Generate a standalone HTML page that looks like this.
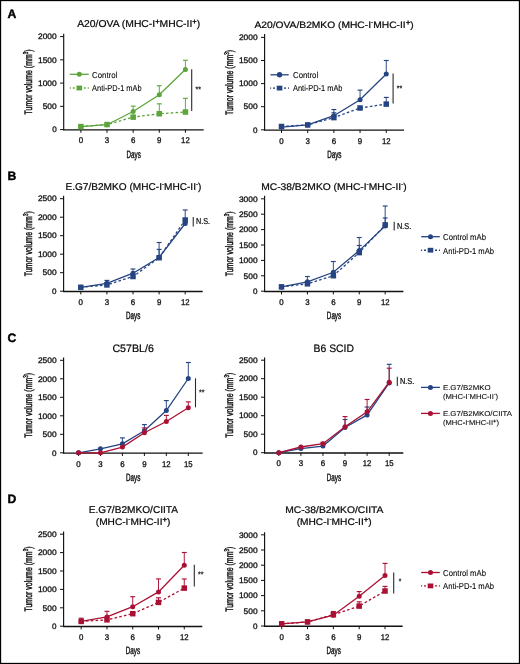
<!DOCTYPE html><html><head><meta charset="utf-8"><style>html,body{margin:0;padding:0;background:#fff;width:520px;height:664px;overflow:hidden}</style></head><body><svg width="520" height="664" viewBox="0 0 520 664" style="display:block">
<rect x="0" y="0" width="520" height="664" fill="#fff"/>
<g font-family='"Liberation Sans", sans-serif' style="will-change:transform" text-rendering="geometricPrecision" stroke="#1a1a1a" stroke-width="0.24">
<text x="7.50" y="17.60" font-size="12.2" stroke-width="0.4" font-weight="bold" fill="#000" stroke="#000">A</text>
<text x="7.50" y="179.80" font-size="12.2" stroke-width="0.4" font-weight="bold" fill="#000" stroke="#000">B</text>
<text x="7.50" y="342.30" font-size="12.2" stroke-width="0.4" font-weight="bold" fill="#000" stroke="#000">C</text>
<text x="7.50" y="503.40" font-size="12.2" stroke-width="0.4" font-weight="bold" fill="#000" stroke="#000">D</text>
<line x1="63.70" y1="33.80" x2="63.70" y2="130.20" stroke="#111" stroke-width="1.15" stroke-linecap="butt"/>
<line x1="60.10" y1="129.60" x2="63.70" y2="129.60" stroke="#111" stroke-width="1.0" stroke-linecap="butt"/>
<text x="56.70" y="132.35" font-size="8.0" stroke-width="0.32" text-anchor="end" textLength="4.50" lengthAdjust="spacingAndGlyphs" >0</text>
<line x1="60.10" y1="106.35" x2="63.70" y2="106.35" stroke="#111" stroke-width="1.0" stroke-linecap="butt"/>
<text x="56.70" y="109.10" font-size="8.0" stroke-width="0.32" text-anchor="end" textLength="14.00" lengthAdjust="spacingAndGlyphs" >500</text>
<line x1="60.10" y1="83.10" x2="63.70" y2="83.10" stroke="#111" stroke-width="1.0" stroke-linecap="butt"/>
<text x="56.70" y="85.85" font-size="8.0" stroke-width="0.32" text-anchor="end" textLength="18.70" lengthAdjust="spacingAndGlyphs" >1000</text>
<line x1="60.10" y1="59.85" x2="63.70" y2="59.85" stroke="#111" stroke-width="1.0" stroke-linecap="butt"/>
<text x="56.70" y="62.60" font-size="8.0" stroke-width="0.32" text-anchor="end" textLength="18.70" lengthAdjust="spacingAndGlyphs" >1500</text>
<line x1="60.10" y1="36.60" x2="63.70" y2="36.60" stroke="#111" stroke-width="1.0" stroke-linecap="butt"/>
<text x="56.70" y="39.35" font-size="8.0" stroke-width="0.32" text-anchor="end" textLength="18.70" lengthAdjust="spacingAndGlyphs" >2000</text>
<line x1="63.20" y1="129.85" x2="203.70" y2="129.85" stroke="#111" stroke-width="1.35" stroke-linecap="butt"/>
<line x1="80.90" y1="129.60" x2="80.90" y2="132.80" stroke="#111" stroke-width="1.0" stroke-linecap="butt"/>
<text x="80.90" y="143.30" font-size="8.3" stroke-width="0.32" text-anchor="middle" textLength="4.40" lengthAdjust="spacingAndGlyphs" >0</text>
<line x1="107.03" y1="129.60" x2="107.03" y2="132.80" stroke="#111" stroke-width="1.0" stroke-linecap="butt"/>
<text x="107.03" y="143.30" font-size="8.3" stroke-width="0.32" text-anchor="middle" textLength="4.40" lengthAdjust="spacingAndGlyphs" >3</text>
<line x1="133.16" y1="129.60" x2="133.16" y2="132.80" stroke="#111" stroke-width="1.0" stroke-linecap="butt"/>
<text x="133.16" y="143.30" font-size="8.3" stroke-width="0.32" text-anchor="middle" textLength="4.40" lengthAdjust="spacingAndGlyphs" >6</text>
<line x1="159.29" y1="129.60" x2="159.29" y2="132.80" stroke="#111" stroke-width="1.0" stroke-linecap="butt"/>
<text x="159.29" y="143.30" font-size="8.3" stroke-width="0.32" text-anchor="middle" textLength="4.40" lengthAdjust="spacingAndGlyphs" >9</text>
<line x1="185.42" y1="129.60" x2="185.42" y2="132.80" stroke="#111" stroke-width="1.0" stroke-linecap="butt"/>
<text x="185.42" y="143.30" font-size="8.3" stroke-width="0.32" text-anchor="middle" textLength="8.60" lengthAdjust="spacingAndGlyphs" >12</text>
<text x="133.70" y="157.80" font-size="10.7" text-anchor="middle" textLength="14.30" lengthAdjust="spacingAndGlyphs" stroke="#1a1a1a" stroke-width="0.45">Days</text>
<text transform="translate(31.80,81.90) rotate(-90)" x="0" y="0" font-size="10.8" text-anchor="middle" textLength="65" lengthAdjust="spacingAndGlyphs" fill="#1a1a1a" stroke="#1a1a1a" stroke-width="0.5">Tumor volume (mm<tspan dy="-3.6" font-size="7">3</tspan><tspan dy="3.6">)</tspan></text>
<text x="77.20" y="27.00" font-size="10.0" textLength="123.00" lengthAdjust="spacingAndGlyphs" >A20/OVA (MHC-I<tspan dy="-2.6" font-size="7.3" font-weight="bold">+</tspan><tspan dy="2.6">MHC-II</tspan><tspan dy="-2.6" font-size="7.3" font-weight="bold">+</tspan><tspan dy="2.6">)</tspan></text>
<line x1="133.16" y1="111.46" x2="133.16" y2="106.16" stroke="#5ba53a" stroke-width="0.95" stroke-linecap="butt"/>
<line x1="130.71" y1="106.16" x2="135.61" y2="106.16" stroke="#5ba53a" stroke-width="1.15" stroke-linecap="butt"/>
<line x1="159.29" y1="94.77" x2="159.29" y2="85.70" stroke="#5ba53a" stroke-width="0.95" stroke-linecap="butt"/>
<line x1="156.84" y1="85.70" x2="161.74" y2="85.70" stroke="#5ba53a" stroke-width="1.15" stroke-linecap="butt"/>
<line x1="185.42" y1="69.43" x2="185.42" y2="60.27" stroke="#5ba53a" stroke-width="0.95" stroke-linecap="butt"/>
<line x1="182.97" y1="60.27" x2="187.87" y2="60.27" stroke="#5ba53a" stroke-width="1.15" stroke-linecap="butt"/>
<path d="M80.90,126.72 L107.03,124.72 L133.16,111.46 L159.29,94.77 L185.42,69.43" fill="none" stroke="#5ba53a" stroke-width="1.3"/>
<circle cx="80.90" cy="126.72" r="2.50" fill="#5ba53a" stroke="none"/>
<circle cx="107.03" cy="124.72" r="2.50" fill="#5ba53a" stroke="none"/>
<circle cx="133.16" cy="111.46" r="2.50" fill="#5ba53a" stroke="none"/>
<circle cx="159.29" cy="94.77" r="2.50" fill="#5ba53a" stroke="none"/>
<circle cx="185.42" cy="69.43" r="2.50" fill="#5ba53a" stroke="none"/>
<line x1="133.16" y1="117.14" x2="133.16" y2="115.65" stroke="#5ba53a" stroke-width="0.95" stroke-linecap="butt"/>
<line x1="130.71" y1="115.65" x2="135.61" y2="115.65" stroke="#5ba53a" stroke-width="1.15" stroke-linecap="butt"/>
<line x1="159.29" y1="113.74" x2="159.29" y2="103.84" stroke="#5ba53a" stroke-width="0.95" stroke-linecap="butt"/>
<line x1="156.84" y1="103.84" x2="161.74" y2="103.84" stroke="#5ba53a" stroke-width="1.15" stroke-linecap="butt"/>
<line x1="185.42" y1="112.02" x2="185.42" y2="98.35" stroke="#5ba53a" stroke-width="0.95" stroke-linecap="butt"/>
<line x1="182.97" y1="98.35" x2="187.87" y2="98.35" stroke="#5ba53a" stroke-width="1.15" stroke-linecap="butt"/>
<path d="M80.90,126.58 L107.03,124.53 L133.16,117.14 L159.29,113.74 L185.42,112.02" fill="none" stroke="#5ba53a" stroke-width="1.3" stroke-dasharray="2.6,2.2"/>
<rect x="78.15" y="123.83" width="5.50" height="5.50" fill="#5ba53a" stroke="none"/>
<rect x="104.28" y="121.78" width="5.50" height="5.50" fill="#5ba53a" stroke="none"/>
<rect x="130.41" y="114.39" width="5.50" height="5.50" fill="#5ba53a" stroke="none"/>
<rect x="156.54" y="110.99" width="5.50" height="5.50" fill="#5ba53a" stroke="none"/>
<rect x="182.67" y="109.27" width="5.50" height="5.50" fill="#5ba53a" stroke="none"/>
<line x1="69.80" y1="74.30" x2="88.80" y2="74.30" stroke="#5ba53a" stroke-width="1.3"/>
<circle cx="79.30" cy="74.30" r="2.50" fill="#5ba53a" stroke="none"/>
<text x="92.10" y="77.65" font-size="8.5" stroke-width="0.1" textLength="25.20" lengthAdjust="spacingAndGlyphs" >Control</text>
<line x1="69.80" y1="88.00" x2="70.90" y2="88.00" stroke="#5ba53a" stroke-width="1.4"/>
<line x1="72.80" y1="88.00" x2="74.80" y2="88.00" stroke="#5ba53a" stroke-width="1.4"/>
<line x1="83.80" y1="88.00" x2="85.80" y2="88.00" stroke="#5ba53a" stroke-width="1.4"/>
<line x1="87.70" y1="88.00" x2="88.80" y2="88.00" stroke="#5ba53a" stroke-width="1.4"/>
<rect x="76.50" y="85.60" width="5.6" height="4.8" fill="#5ba53a" stroke="none"/>
<text x="92.10" y="91.35" font-size="8.5" stroke-width="0.1" textLength="49.50" lengthAdjust="spacingAndGlyphs" >Anti-PD-1 mAb</text>
<line x1="191.70" y1="69.20" x2="191.70" y2="111.10" stroke="#2a2a2a" stroke-width="1.1" stroke-linecap="butt"/>
<text x="195.40" y="92.00" font-size="8" textLength="5.50" lengthAdjust="spacingAndGlyphs" >**</text>
<line x1="264.60" y1="34.00" x2="264.60" y2="130.40" stroke="#111" stroke-width="1.15" stroke-linecap="butt"/>
<line x1="261.00" y1="129.80" x2="264.60" y2="129.80" stroke="#111" stroke-width="1.0" stroke-linecap="butt"/>
<text x="257.60" y="132.55" font-size="8.0" stroke-width="0.32" text-anchor="end" textLength="4.50" lengthAdjust="spacingAndGlyphs" >0</text>
<line x1="261.00" y1="106.70" x2="264.60" y2="106.70" stroke="#111" stroke-width="1.0" stroke-linecap="butt"/>
<text x="257.60" y="109.45" font-size="8.0" stroke-width="0.32" text-anchor="end" textLength="14.00" lengthAdjust="spacingAndGlyphs" >500</text>
<line x1="261.00" y1="83.60" x2="264.60" y2="83.60" stroke="#111" stroke-width="1.0" stroke-linecap="butt"/>
<text x="257.60" y="86.35" font-size="8.0" stroke-width="0.32" text-anchor="end" textLength="18.70" lengthAdjust="spacingAndGlyphs" >1000</text>
<line x1="261.00" y1="60.50" x2="264.60" y2="60.50" stroke="#111" stroke-width="1.0" stroke-linecap="butt"/>
<text x="257.60" y="63.25" font-size="8.0" stroke-width="0.32" text-anchor="end" textLength="18.70" lengthAdjust="spacingAndGlyphs" >1500</text>
<line x1="261.00" y1="37.40" x2="264.60" y2="37.40" stroke="#111" stroke-width="1.0" stroke-linecap="butt"/>
<text x="257.60" y="40.15" font-size="8.0" stroke-width="0.32" text-anchor="end" textLength="18.70" lengthAdjust="spacingAndGlyphs" >2000</text>
<line x1="264.10" y1="130.05" x2="404.00" y2="130.05" stroke="#111" stroke-width="1.35" stroke-linecap="butt"/>
<line x1="281.50" y1="129.80" x2="281.50" y2="133.00" stroke="#111" stroke-width="1.0" stroke-linecap="butt"/>
<text x="281.50" y="143.50" font-size="8.3" stroke-width="0.32" text-anchor="middle" textLength="4.40" lengthAdjust="spacingAndGlyphs" >0</text>
<line x1="307.69" y1="129.80" x2="307.69" y2="133.00" stroke="#111" stroke-width="1.0" stroke-linecap="butt"/>
<text x="307.69" y="143.50" font-size="8.3" stroke-width="0.32" text-anchor="middle" textLength="4.40" lengthAdjust="spacingAndGlyphs" >3</text>
<line x1="333.88" y1="129.80" x2="333.88" y2="133.00" stroke="#111" stroke-width="1.0" stroke-linecap="butt"/>
<text x="333.88" y="143.50" font-size="8.3" stroke-width="0.32" text-anchor="middle" textLength="4.40" lengthAdjust="spacingAndGlyphs" >6</text>
<line x1="360.07" y1="129.80" x2="360.07" y2="133.00" stroke="#111" stroke-width="1.0" stroke-linecap="butt"/>
<text x="360.07" y="143.50" font-size="8.3" stroke-width="0.32" text-anchor="middle" textLength="4.40" lengthAdjust="spacingAndGlyphs" >9</text>
<line x1="386.26" y1="129.80" x2="386.26" y2="133.00" stroke="#111" stroke-width="1.0" stroke-linecap="butt"/>
<text x="386.26" y="143.50" font-size="8.3" stroke-width="0.32" text-anchor="middle" textLength="8.60" lengthAdjust="spacingAndGlyphs" >12</text>
<text x="334.30" y="158.00" font-size="10.7" text-anchor="middle" textLength="14.30" lengthAdjust="spacingAndGlyphs" stroke="#1a1a1a" stroke-width="0.45">Days</text>
<text transform="translate(232.70,82.40) rotate(-90)" x="0" y="0" font-size="10.8" text-anchor="middle" textLength="65" lengthAdjust="spacingAndGlyphs" fill="#1a1a1a" stroke="#1a1a1a" stroke-width="0.5">Tumor volume (mm<tspan dy="-3.6" font-size="7">3</tspan><tspan dy="3.6">)</tspan></text>
<text x="254.50" y="27.50" font-size="9.3" textLength="159.30" lengthAdjust="spacingAndGlyphs" >A20/OVA/B2MKO (MHC-I<tspan dy="-4.0" font-size="6">-</tspan><tspan dy="4.0">MHC-II</tspan><tspan dy="-2.6" font-size="7.3" font-weight="bold">+</tspan><tspan dy="2.6">)</tspan></text>
<line x1="333.88" y1="115.71" x2="333.88" y2="109.52" stroke="#254482" stroke-width="0.95" stroke-linecap="butt"/>
<line x1="331.43" y1="109.52" x2="336.33" y2="109.52" stroke="#254482" stroke-width="1.15" stroke-linecap="butt"/>
<line x1="360.07" y1="99.68" x2="360.07" y2="90.11" stroke="#254482" stroke-width="0.95" stroke-linecap="butt"/>
<line x1="357.62" y1="90.11" x2="362.52" y2="90.11" stroke="#254482" stroke-width="1.15" stroke-linecap="butt"/>
<line x1="386.26" y1="74.08" x2="386.26" y2="60.50" stroke="#254482" stroke-width="0.95" stroke-linecap="butt"/>
<line x1="383.81" y1="60.50" x2="388.71" y2="60.50" stroke="#254482" stroke-width="1.15" stroke-linecap="butt"/>
<path d="M281.50,127.03 L307.69,124.90 L333.88,115.71 L360.07,99.68 L386.26,74.08" fill="none" stroke="#254482" stroke-width="1.3"/>
<circle cx="281.50" cy="127.03" r="2.50" fill="#254482" stroke="none"/>
<circle cx="307.69" cy="124.90" r="2.50" fill="#254482" stroke="none"/>
<circle cx="333.88" cy="115.71" r="2.50" fill="#254482" stroke="none"/>
<circle cx="360.07" cy="99.68" r="2.50" fill="#254482" stroke="none"/>
<circle cx="386.26" cy="74.08" r="2.50" fill="#254482" stroke="none"/>
<line x1="333.88" y1="117.60" x2="333.88" y2="112.80" stroke="#254482" stroke-width="0.95" stroke-linecap="butt"/>
<line x1="331.43" y1="112.80" x2="336.33" y2="112.80" stroke="#254482" stroke-width="1.15" stroke-linecap="butt"/>
<line x1="386.26" y1="104.11" x2="386.26" y2="97.41" stroke="#254482" stroke-width="0.95" stroke-linecap="butt"/>
<line x1="383.81" y1="97.41" x2="388.71" y2="97.41" stroke="#254482" stroke-width="1.15" stroke-linecap="butt"/>
<path d="M281.50,126.52 L307.69,124.90 L333.88,117.60 L360.07,107.99 L386.26,104.11" fill="none" stroke="#254482" stroke-width="1.3" stroke-dasharray="2.6,2.2"/>
<rect x="278.75" y="123.77" width="5.50" height="5.50" fill="#254482" stroke="none"/>
<rect x="304.94" y="122.15" width="5.50" height="5.50" fill="#254482" stroke="none"/>
<rect x="331.13" y="114.85" width="5.50" height="5.50" fill="#254482" stroke="none"/>
<rect x="357.32" y="105.24" width="5.50" height="5.50" fill="#254482" stroke="none"/>
<rect x="383.51" y="101.36" width="5.50" height="5.50" fill="#254482" stroke="none"/>
<line x1="270.40" y1="74.80" x2="288.70" y2="74.80" stroke="#254482" stroke-width="1.3"/>
<circle cx="279.55" cy="74.80" r="2.70" fill="#254482" stroke="none"/>
<text x="293.00" y="78.15" font-size="8.5" stroke-width="0.1" textLength="25.20" lengthAdjust="spacingAndGlyphs" >Control</text>
<line x1="270.05" y1="88.10" x2="271.15" y2="88.10" stroke="#254482" stroke-width="1.4"/>
<line x1="273.05" y1="88.10" x2="275.05" y2="88.10" stroke="#254482" stroke-width="1.4"/>
<line x1="284.05" y1="88.10" x2="286.05" y2="88.10" stroke="#254482" stroke-width="1.4"/>
<line x1="287.95" y1="88.10" x2="289.05" y2="88.10" stroke="#254482" stroke-width="1.4"/>
<rect x="276.75" y="85.70" width="5.6" height="4.8" fill="#254482" stroke="none"/>
<text x="293.00" y="91.45" font-size="8.5" stroke-width="0.1" textLength="49.50" lengthAdjust="spacingAndGlyphs" >Anti-PD-1 mAb</text>
<line x1="393.10" y1="73.60" x2="393.10" y2="103.50" stroke="#2a2a2a" stroke-width="1.1" stroke-linecap="butt"/>
<text x="396.80" y="90.50" font-size="8" textLength="5.50" lengthAdjust="spacingAndGlyphs" >**</text>
<line x1="63.60" y1="195.80" x2="63.60" y2="291.80" stroke="#111" stroke-width="1.15" stroke-linecap="butt"/>
<line x1="60.00" y1="291.20" x2="63.60" y2="291.20" stroke="#111" stroke-width="1.0" stroke-linecap="butt"/>
<text x="56.60" y="293.95" font-size="8.0" stroke-width="0.32" text-anchor="end" textLength="4.50" lengthAdjust="spacingAndGlyphs" >0</text>
<line x1="60.00" y1="272.70" x2="63.60" y2="272.70" stroke="#111" stroke-width="1.0" stroke-linecap="butt"/>
<text x="56.60" y="275.45" font-size="8.0" stroke-width="0.32" text-anchor="end" textLength="14.00" lengthAdjust="spacingAndGlyphs" >500</text>
<line x1="60.00" y1="254.20" x2="63.60" y2="254.20" stroke="#111" stroke-width="1.0" stroke-linecap="butt"/>
<text x="56.60" y="256.95" font-size="8.0" stroke-width="0.32" text-anchor="end" textLength="18.70" lengthAdjust="spacingAndGlyphs" >1000</text>
<line x1="60.00" y1="235.70" x2="63.60" y2="235.70" stroke="#111" stroke-width="1.0" stroke-linecap="butt"/>
<text x="56.60" y="238.45" font-size="8.0" stroke-width="0.32" text-anchor="end" textLength="18.70" lengthAdjust="spacingAndGlyphs" >1500</text>
<line x1="60.00" y1="217.20" x2="63.60" y2="217.20" stroke="#111" stroke-width="1.0" stroke-linecap="butt"/>
<text x="56.60" y="219.95" font-size="8.0" stroke-width="0.32" text-anchor="end" textLength="18.70" lengthAdjust="spacingAndGlyphs" >2000</text>
<line x1="60.00" y1="198.70" x2="63.60" y2="198.70" stroke="#111" stroke-width="1.0" stroke-linecap="butt"/>
<text x="56.60" y="201.45" font-size="8.0" stroke-width="0.32" text-anchor="end" textLength="18.70" lengthAdjust="spacingAndGlyphs" >2500</text>
<line x1="63.10" y1="291.45" x2="202.70" y2="291.45" stroke="#111" stroke-width="1.35" stroke-linecap="butt"/>
<line x1="80.80" y1="291.20" x2="80.80" y2="294.40" stroke="#111" stroke-width="1.0" stroke-linecap="butt"/>
<text x="80.80" y="304.90" font-size="8.3" stroke-width="0.32" text-anchor="middle" textLength="4.40" lengthAdjust="spacingAndGlyphs" >0</text>
<line x1="106.90" y1="291.20" x2="106.90" y2="294.40" stroke="#111" stroke-width="1.0" stroke-linecap="butt"/>
<text x="106.90" y="304.90" font-size="8.3" stroke-width="0.32" text-anchor="middle" textLength="4.40" lengthAdjust="spacingAndGlyphs" >3</text>
<line x1="133.00" y1="291.20" x2="133.00" y2="294.40" stroke="#111" stroke-width="1.0" stroke-linecap="butt"/>
<text x="133.00" y="304.90" font-size="8.3" stroke-width="0.32" text-anchor="middle" textLength="4.40" lengthAdjust="spacingAndGlyphs" >6</text>
<line x1="159.10" y1="291.20" x2="159.10" y2="294.40" stroke="#111" stroke-width="1.0" stroke-linecap="butt"/>
<text x="159.10" y="304.90" font-size="8.3" stroke-width="0.32" text-anchor="middle" textLength="4.40" lengthAdjust="spacingAndGlyphs" >9</text>
<line x1="185.20" y1="291.20" x2="185.20" y2="294.40" stroke="#111" stroke-width="1.0" stroke-linecap="butt"/>
<text x="185.20" y="304.90" font-size="8.3" stroke-width="0.32" text-anchor="middle" textLength="8.60" lengthAdjust="spacingAndGlyphs" >12</text>
<text x="133.15" y="319.40" font-size="10.7" text-anchor="middle" textLength="14.30" lengthAdjust="spacingAndGlyphs" stroke="#1a1a1a" stroke-width="0.45">Days</text>
<text transform="translate(31.70,243.75) rotate(-90)" x="0" y="0" font-size="10.8" text-anchor="middle" textLength="65" lengthAdjust="spacingAndGlyphs" fill="#1a1a1a" stroke="#1a1a1a" stroke-width="0.5">Tumor volume (mm<tspan dy="-3.6" font-size="7">3</tspan><tspan dy="3.6">)</tspan></text>
<text x="65.40" y="189.80" font-size="9.9" textLength="136.00" lengthAdjust="spacingAndGlyphs" >E.G7/B2MKO (MHC-I<tspan dy="-4.0" font-size="6">-</tspan><tspan dy="4.0">MHC-II</tspan><tspan dy="-4.0" font-size="6">-</tspan><tspan dy="4.0">)</tspan></text>
<line x1="106.90" y1="283.32" x2="106.90" y2="280.40" stroke="#254482" stroke-width="0.95" stroke-linecap="butt"/>
<line x1="104.45" y1="280.40" x2="109.35" y2="280.40" stroke="#254482" stroke-width="1.15" stroke-linecap="butt"/>
<line x1="133.00" y1="273.22" x2="133.00" y2="269.00" stroke="#254482" stroke-width="0.95" stroke-linecap="butt"/>
<line x1="130.55" y1="269.00" x2="135.45" y2="269.00" stroke="#254482" stroke-width="1.15" stroke-linecap="butt"/>
<line x1="159.10" y1="257.49" x2="159.10" y2="242.51" stroke="#254482" stroke-width="0.95" stroke-linecap="butt"/>
<line x1="156.65" y1="242.51" x2="161.55" y2="242.51" stroke="#254482" stroke-width="1.15" stroke-linecap="butt"/>
<path d="M80.80,287.31 L106.90,283.32 L133.00,273.22 L159.10,257.49 L185.20,223.49" fill="none" stroke="#254482" stroke-width="1.3"/>
<circle cx="80.80" cy="287.31" r="2.50" fill="#254482" stroke="none"/>
<circle cx="106.90" cy="283.32" r="2.50" fill="#254482" stroke="none"/>
<circle cx="133.00" cy="273.22" r="2.50" fill="#254482" stroke="none"/>
<circle cx="159.10" cy="257.49" r="2.50" fill="#254482" stroke="none"/>
<circle cx="185.20" cy="223.49" r="2.50" fill="#254482" stroke="none"/>
<line x1="159.10" y1="257.71" x2="159.10" y2="249.39" stroke="#254482" stroke-width="0.95" stroke-linecap="butt"/>
<line x1="156.65" y1="249.39" x2="161.55" y2="249.39" stroke="#254482" stroke-width="1.15" stroke-linecap="butt"/>
<line x1="185.20" y1="220.01" x2="185.20" y2="209.99" stroke="#254482" stroke-width="0.95" stroke-linecap="butt"/>
<line x1="182.75" y1="209.99" x2="187.65" y2="209.99" stroke="#254482" stroke-width="1.15" stroke-linecap="butt"/>
<path d="M80.80,287.31 L106.90,284.91 L133.00,276.51 L159.10,257.71 L185.20,220.01" fill="none" stroke="#254482" stroke-width="1.3" stroke-dasharray="2.6,2.2"/>
<rect x="78.05" y="284.56" width="5.50" height="5.50" fill="#254482" stroke="none"/>
<rect x="104.15" y="282.16" width="5.50" height="5.50" fill="#254482" stroke="none"/>
<rect x="130.25" y="273.76" width="5.50" height="5.50" fill="#254482" stroke="none"/>
<rect x="156.35" y="254.96" width="5.50" height="5.50" fill="#254482" stroke="none"/>
<rect x="182.45" y="217.26" width="5.50" height="5.50" fill="#254482" stroke="none"/>
<line x1="193.25" y1="216.90" x2="193.25" y2="226.60" stroke="#2a2a2a" stroke-width="1.1" stroke-linecap="butt"/>
<text x="196.00" y="224.40" font-size="8.6" textLength="14.00" lengthAdjust="spacingAndGlyphs" >N.S.</text>
<line x1="264.60" y1="195.80" x2="264.60" y2="291.80" stroke="#111" stroke-width="1.15" stroke-linecap="butt"/>
<line x1="261.00" y1="291.20" x2="264.60" y2="291.20" stroke="#111" stroke-width="1.0" stroke-linecap="butt"/>
<text x="257.60" y="293.95" font-size="8.0" stroke-width="0.32" text-anchor="end" textLength="4.50" lengthAdjust="spacingAndGlyphs" >0</text>
<line x1="261.00" y1="275.80" x2="264.60" y2="275.80" stroke="#111" stroke-width="1.0" stroke-linecap="butt"/>
<text x="257.60" y="278.55" font-size="8.0" stroke-width="0.32" text-anchor="end" textLength="14.00" lengthAdjust="spacingAndGlyphs" >500</text>
<line x1="261.00" y1="260.40" x2="264.60" y2="260.40" stroke="#111" stroke-width="1.0" stroke-linecap="butt"/>
<text x="257.60" y="263.15" font-size="8.0" stroke-width="0.32" text-anchor="end" textLength="18.70" lengthAdjust="spacingAndGlyphs" >1000</text>
<line x1="261.00" y1="245.00" x2="264.60" y2="245.00" stroke="#111" stroke-width="1.0" stroke-linecap="butt"/>
<text x="257.60" y="247.75" font-size="8.0" stroke-width="0.32" text-anchor="end" textLength="18.70" lengthAdjust="spacingAndGlyphs" >1500</text>
<line x1="261.00" y1="229.60" x2="264.60" y2="229.60" stroke="#111" stroke-width="1.0" stroke-linecap="butt"/>
<text x="257.60" y="232.35" font-size="8.0" stroke-width="0.32" text-anchor="end" textLength="18.70" lengthAdjust="spacingAndGlyphs" >2000</text>
<line x1="261.00" y1="214.20" x2="264.60" y2="214.20" stroke="#111" stroke-width="1.0" stroke-linecap="butt"/>
<text x="257.60" y="216.95" font-size="8.0" stroke-width="0.32" text-anchor="end" textLength="18.70" lengthAdjust="spacingAndGlyphs" >2500</text>
<line x1="261.00" y1="198.80" x2="264.60" y2="198.80" stroke="#111" stroke-width="1.0" stroke-linecap="butt"/>
<text x="257.60" y="201.55" font-size="8.0" stroke-width="0.32" text-anchor="end" textLength="18.70" lengthAdjust="spacingAndGlyphs" >3000</text>
<line x1="264.10" y1="291.45" x2="403.40" y2="291.45" stroke="#111" stroke-width="1.35" stroke-linecap="butt"/>
<line x1="281.50" y1="291.20" x2="281.50" y2="294.40" stroke="#111" stroke-width="1.0" stroke-linecap="butt"/>
<text x="281.50" y="304.90" font-size="8.3" stroke-width="0.32" text-anchor="middle" textLength="4.40" lengthAdjust="spacingAndGlyphs" >0</text>
<line x1="307.42" y1="291.20" x2="307.42" y2="294.40" stroke="#111" stroke-width="1.0" stroke-linecap="butt"/>
<text x="307.42" y="304.90" font-size="8.3" stroke-width="0.32" text-anchor="middle" textLength="4.40" lengthAdjust="spacingAndGlyphs" >3</text>
<line x1="333.34" y1="291.20" x2="333.34" y2="294.40" stroke="#111" stroke-width="1.0" stroke-linecap="butt"/>
<text x="333.34" y="304.90" font-size="8.3" stroke-width="0.32" text-anchor="middle" textLength="4.40" lengthAdjust="spacingAndGlyphs" >6</text>
<line x1="359.26" y1="291.20" x2="359.26" y2="294.40" stroke="#111" stroke-width="1.0" stroke-linecap="butt"/>
<text x="359.26" y="304.90" font-size="8.3" stroke-width="0.32" text-anchor="middle" textLength="4.40" lengthAdjust="spacingAndGlyphs" >9</text>
<line x1="385.18" y1="291.20" x2="385.18" y2="294.40" stroke="#111" stroke-width="1.0" stroke-linecap="butt"/>
<text x="385.18" y="304.90" font-size="8.3" stroke-width="0.32" text-anchor="middle" textLength="8.60" lengthAdjust="spacingAndGlyphs" >12</text>
<text x="334.00" y="319.40" font-size="10.7" text-anchor="middle" textLength="14.30" lengthAdjust="spacingAndGlyphs" stroke="#1a1a1a" stroke-width="0.45">Days</text>
<text transform="translate(232.70,243.80) rotate(-90)" x="0" y="0" font-size="10.8" text-anchor="middle" textLength="65" lengthAdjust="spacingAndGlyphs" fill="#1a1a1a" stroke="#1a1a1a" stroke-width="0.5">Tumor volume (mm<tspan dy="-3.6" font-size="7">3</tspan><tspan dy="3.6">)</tspan></text>
<text x="261.20" y="189.60" font-size="9.7" textLength="145.50" lengthAdjust="spacingAndGlyphs" >MC-38/B2MKO (MHC-I<tspan dy="-4.0" font-size="6">-</tspan><tspan dy="4.0">MHC-II</tspan><tspan dy="-4.0" font-size="6">-</tspan><tspan dy="4.0">)</tspan></text>
<line x1="307.42" y1="281.81" x2="307.42" y2="276.51" stroke="#254482" stroke-width="0.95" stroke-linecap="butt"/>
<line x1="304.97" y1="276.51" x2="309.87" y2="276.51" stroke="#254482" stroke-width="1.15" stroke-linecap="butt"/>
<line x1="333.34" y1="272.29" x2="333.34" y2="261.51" stroke="#254482" stroke-width="0.95" stroke-linecap="butt"/>
<line x1="330.89" y1="261.51" x2="335.79" y2="261.51" stroke="#254482" stroke-width="1.15" stroke-linecap="butt"/>
<line x1="359.26" y1="250.61" x2="359.26" y2="237.52" stroke="#254482" stroke-width="0.95" stroke-linecap="butt"/>
<line x1="356.81" y1="237.52" x2="361.71" y2="237.52" stroke="#254482" stroke-width="1.15" stroke-linecap="butt"/>
<line x1="385.18" y1="226.00" x2="385.18" y2="206.01" stroke="#254482" stroke-width="0.95" stroke-linecap="butt"/>
<line x1="382.73" y1="206.01" x2="387.63" y2="206.01" stroke="#254482" stroke-width="1.15" stroke-linecap="butt"/>
<path d="M281.50,286.89 L307.42,281.81 L333.34,272.29 L359.26,250.61 L385.18,226.00" fill="none" stroke="#254482" stroke-width="1.3"/>
<circle cx="281.50" cy="286.89" r="2.50" fill="#254482" stroke="none"/>
<circle cx="307.42" cy="281.81" r="2.50" fill="#254482" stroke="none"/>
<circle cx="333.34" cy="272.29" r="2.50" fill="#254482" stroke="none"/>
<circle cx="359.26" cy="250.61" r="2.50" fill="#254482" stroke="none"/>
<circle cx="385.18" cy="226.00" r="2.50" fill="#254482" stroke="none"/>
<line x1="359.26" y1="252.61" x2="359.26" y2="245.49" stroke="#254482" stroke-width="0.95" stroke-linecap="butt"/>
<line x1="356.81" y1="245.49" x2="361.71" y2="245.49" stroke="#254482" stroke-width="1.15" stroke-linecap="butt"/>
<line x1="385.18" y1="224.89" x2="385.18" y2="217.99" stroke="#254482" stroke-width="0.95" stroke-linecap="butt"/>
<line x1="382.73" y1="217.99" x2="387.63" y2="217.99" stroke="#254482" stroke-width="1.15" stroke-linecap="butt"/>
<path d="M281.50,286.89 L307.42,283.81 L333.34,275.71 L359.26,252.61 L385.18,224.89" fill="none" stroke="#254482" stroke-width="1.3" stroke-dasharray="2.6,2.2"/>
<rect x="278.75" y="284.14" width="5.50" height="5.50" fill="#254482" stroke="none"/>
<rect x="304.67" y="281.06" width="5.50" height="5.50" fill="#254482" stroke="none"/>
<rect x="330.59" y="272.96" width="5.50" height="5.50" fill="#254482" stroke="none"/>
<rect x="356.51" y="249.86" width="5.50" height="5.50" fill="#254482" stroke="none"/>
<rect x="382.43" y="222.14" width="5.50" height="5.50" fill="#254482" stroke="none"/>
<line x1="394.20" y1="221.80" x2="394.20" y2="230.60" stroke="#2a2a2a" stroke-width="1.1" stroke-linecap="butt"/>
<text x="397.00" y="228.60" font-size="8.6" textLength="14.20" lengthAdjust="spacingAndGlyphs" >N.S.</text>
<line x1="421.20" y1="236.70" x2="439.80" y2="236.70" stroke="#254482" stroke-width="1.3"/>
<circle cx="430.50" cy="236.70" r="2.50" fill="#254482" stroke="none"/>
<text x="443.10" y="240.05" font-size="8.5" stroke-width="0.1" textLength="42.90" lengthAdjust="spacingAndGlyphs" >Control mAb</text>
<line x1="421.00" y1="250.20" x2="422.10" y2="250.20" stroke="#254482" stroke-width="1.4"/>
<line x1="424.00" y1="250.20" x2="426.00" y2="250.20" stroke="#254482" stroke-width="1.4"/>
<line x1="435.00" y1="250.20" x2="437.00" y2="250.20" stroke="#254482" stroke-width="1.4"/>
<line x1="438.90" y1="250.20" x2="440.00" y2="250.20" stroke="#254482" stroke-width="1.4"/>
<rect x="427.70" y="247.80" width="5.6" height="4.8" fill="#254482" stroke="none"/>
<text x="443.10" y="253.55" font-size="8.5" stroke-width="0.1" textLength="50.90" lengthAdjust="spacingAndGlyphs" >Anti-PD-1 mAb</text>
<line x1="63.60" y1="357.40" x2="63.60" y2="453.40" stroke="#111" stroke-width="1.15" stroke-linecap="butt"/>
<line x1="60.00" y1="452.80" x2="63.60" y2="452.80" stroke="#111" stroke-width="1.0" stroke-linecap="butt"/>
<text x="56.60" y="455.55" font-size="8.0" stroke-width="0.32" text-anchor="end" textLength="4.50" lengthAdjust="spacingAndGlyphs" >0</text>
<line x1="60.00" y1="434.30" x2="63.60" y2="434.30" stroke="#111" stroke-width="1.0" stroke-linecap="butt"/>
<text x="56.60" y="437.05" font-size="8.0" stroke-width="0.32" text-anchor="end" textLength="14.00" lengthAdjust="spacingAndGlyphs" >500</text>
<line x1="60.00" y1="415.80" x2="63.60" y2="415.80" stroke="#111" stroke-width="1.0" stroke-linecap="butt"/>
<text x="56.60" y="418.55" font-size="8.0" stroke-width="0.32" text-anchor="end" textLength="18.70" lengthAdjust="spacingAndGlyphs" >1000</text>
<line x1="60.00" y1="397.30" x2="63.60" y2="397.30" stroke="#111" stroke-width="1.0" stroke-linecap="butt"/>
<text x="56.60" y="400.05" font-size="8.0" stroke-width="0.32" text-anchor="end" textLength="18.70" lengthAdjust="spacingAndGlyphs" >1500</text>
<line x1="60.00" y1="378.80" x2="63.60" y2="378.80" stroke="#111" stroke-width="1.0" stroke-linecap="butt"/>
<text x="56.60" y="381.55" font-size="8.0" stroke-width="0.32" text-anchor="end" textLength="18.70" lengthAdjust="spacingAndGlyphs" >2000</text>
<line x1="60.00" y1="360.30" x2="63.60" y2="360.30" stroke="#111" stroke-width="1.0" stroke-linecap="butt"/>
<text x="56.60" y="363.05" font-size="8.0" stroke-width="0.32" text-anchor="end" textLength="18.70" lengthAdjust="spacingAndGlyphs" >2500</text>
<line x1="63.10" y1="453.05" x2="202.70" y2="453.05" stroke="#111" stroke-width="1.35" stroke-linecap="butt"/>
<line x1="78.50" y1="452.80" x2="78.50" y2="456.00" stroke="#111" stroke-width="1.0" stroke-linecap="butt"/>
<text x="78.50" y="466.50" font-size="8.3" stroke-width="0.32" text-anchor="middle" textLength="4.40" lengthAdjust="spacingAndGlyphs" >0</text>
<line x1="100.46" y1="452.80" x2="100.46" y2="456.00" stroke="#111" stroke-width="1.0" stroke-linecap="butt"/>
<text x="100.46" y="466.50" font-size="8.3" stroke-width="0.32" text-anchor="middle" textLength="4.40" lengthAdjust="spacingAndGlyphs" >3</text>
<line x1="122.42" y1="452.80" x2="122.42" y2="456.00" stroke="#111" stroke-width="1.0" stroke-linecap="butt"/>
<text x="122.42" y="466.50" font-size="8.3" stroke-width="0.32" text-anchor="middle" textLength="4.40" lengthAdjust="spacingAndGlyphs" >6</text>
<line x1="144.38" y1="452.80" x2="144.38" y2="456.00" stroke="#111" stroke-width="1.0" stroke-linecap="butt"/>
<text x="144.38" y="466.50" font-size="8.3" stroke-width="0.32" text-anchor="middle" textLength="4.40" lengthAdjust="spacingAndGlyphs" >9</text>
<line x1="166.34" y1="452.80" x2="166.34" y2="456.00" stroke="#111" stroke-width="1.0" stroke-linecap="butt"/>
<text x="166.34" y="466.50" font-size="8.3" stroke-width="0.32" text-anchor="middle" textLength="8.60" lengthAdjust="spacingAndGlyphs" >12</text>
<line x1="188.30" y1="452.80" x2="188.30" y2="456.00" stroke="#111" stroke-width="1.0" stroke-linecap="butt"/>
<text x="188.30" y="466.50" font-size="8.3" stroke-width="0.32" text-anchor="middle" textLength="8.60" lengthAdjust="spacingAndGlyphs" >15</text>
<text x="133.15" y="481.00" font-size="10.7" text-anchor="middle" textLength="14.30" lengthAdjust="spacingAndGlyphs" stroke="#1a1a1a" stroke-width="0.45">Days</text>
<text transform="translate(31.70,405.35) rotate(-90)" x="0" y="0" font-size="10.8" text-anchor="middle" textLength="65" lengthAdjust="spacingAndGlyphs" fill="#1a1a1a" stroke="#1a1a1a" stroke-width="0.5">Tumor volume (mm<tspan dy="-3.6" font-size="7">3</tspan><tspan dy="3.6">)</tspan></text>
<text x="112.40" y="351.70" font-size="10.8" textLength="41.60" lengthAdjust="spacingAndGlyphs" >C57BL/6</text>
<line x1="122.42" y1="443.81" x2="122.42" y2="437.89" stroke="#254482" stroke-width="0.95" stroke-linecap="butt"/>
<line x1="119.97" y1="437.89" x2="124.87" y2="437.89" stroke="#254482" stroke-width="1.15" stroke-linecap="butt"/>
<line x1="144.38" y1="430.79" x2="144.38" y2="424.61" stroke="#254482" stroke-width="0.95" stroke-linecap="butt"/>
<line x1="141.93" y1="424.61" x2="146.83" y2="424.61" stroke="#254482" stroke-width="1.15" stroke-linecap="butt"/>
<line x1="166.34" y1="410.58" x2="166.34" y2="400.59" stroke="#254482" stroke-width="0.95" stroke-linecap="butt"/>
<line x1="163.89" y1="400.59" x2="168.79" y2="400.59" stroke="#254482" stroke-width="1.15" stroke-linecap="butt"/>
<line x1="188.30" y1="378.50" x2="188.30" y2="362.48" stroke="#254482" stroke-width="0.95" stroke-linecap="butt"/>
<line x1="185.85" y1="362.48" x2="190.75" y2="362.48" stroke="#254482" stroke-width="1.15" stroke-linecap="butt"/>
<path d="M78.50,452.80 L100.46,448.80 L122.42,443.81 L144.38,430.79 L166.34,410.58 L188.30,378.50" fill="none" stroke="#254482" stroke-width="1.3"/>
<circle cx="78.50" cy="452.80" r="2.50" fill="#254482" stroke="none"/>
<circle cx="100.46" cy="448.80" r="2.50" fill="#254482" stroke="none"/>
<circle cx="122.42" cy="443.81" r="2.50" fill="#254482" stroke="none"/>
<circle cx="144.38" cy="430.79" r="2.50" fill="#254482" stroke="none"/>
<circle cx="166.34" cy="410.58" r="2.50" fill="#254482" stroke="none"/>
<circle cx="188.30" cy="378.50" r="2.50" fill="#254482" stroke="none"/>
<line x1="144.38" y1="432.71" x2="144.38" y2="427.90" stroke="#aa1034" stroke-width="0.95" stroke-linecap="butt"/>
<line x1="141.93" y1="427.90" x2="146.83" y2="427.90" stroke="#aa1034" stroke-width="1.15" stroke-linecap="butt"/>
<line x1="166.34" y1="421.50" x2="166.34" y2="415.39" stroke="#aa1034" stroke-width="0.95" stroke-linecap="butt"/>
<line x1="163.89" y1="415.39" x2="168.79" y2="415.39" stroke="#aa1034" stroke-width="1.15" stroke-linecap="butt"/>
<line x1="188.30" y1="407.70" x2="188.30" y2="401.89" stroke="#aa1034" stroke-width="0.95" stroke-linecap="butt"/>
<line x1="185.85" y1="401.89" x2="190.75" y2="401.89" stroke="#aa1034" stroke-width="1.15" stroke-linecap="butt"/>
<path d="M78.50,452.80 L100.46,452.80 L122.42,447.10 L144.38,432.71 L166.34,421.50 L188.30,407.70" fill="none" stroke="#aa1034" stroke-width="1.3"/>
<circle cx="78.50" cy="452.80" r="2.50" fill="#aa1034" stroke="none"/>
<circle cx="100.46" cy="452.80" r="2.50" fill="#aa1034" stroke="none"/>
<circle cx="122.42" cy="447.10" r="2.50" fill="#aa1034" stroke="none"/>
<circle cx="144.38" cy="432.71" r="2.50" fill="#aa1034" stroke="none"/>
<circle cx="166.34" cy="421.50" r="2.50" fill="#aa1034" stroke="none"/>
<circle cx="188.30" cy="407.70" r="2.50" fill="#aa1034" stroke="none"/>
<line x1="195.50" y1="378.30" x2="195.50" y2="407.30" stroke="#2a2a2a" stroke-width="1.1" stroke-linecap="butt"/>
<text x="199.00" y="394.80" font-size="8" textLength="5.50" lengthAdjust="spacingAndGlyphs" >**</text>
<line x1="264.60" y1="357.40" x2="264.60" y2="453.30" stroke="#111" stroke-width="1.15" stroke-linecap="butt"/>
<line x1="261.00" y1="452.70" x2="264.60" y2="452.70" stroke="#111" stroke-width="1.0" stroke-linecap="butt"/>
<text x="257.60" y="455.45" font-size="8.0" stroke-width="0.32" text-anchor="end" textLength="4.50" lengthAdjust="spacingAndGlyphs" >0</text>
<line x1="261.00" y1="434.20" x2="264.60" y2="434.20" stroke="#111" stroke-width="1.0" stroke-linecap="butt"/>
<text x="257.60" y="436.95" font-size="8.0" stroke-width="0.32" text-anchor="end" textLength="14.00" lengthAdjust="spacingAndGlyphs" >500</text>
<line x1="261.00" y1="415.70" x2="264.60" y2="415.70" stroke="#111" stroke-width="1.0" stroke-linecap="butt"/>
<text x="257.60" y="418.45" font-size="8.0" stroke-width="0.32" text-anchor="end" textLength="18.70" lengthAdjust="spacingAndGlyphs" >1000</text>
<line x1="261.00" y1="397.20" x2="264.60" y2="397.20" stroke="#111" stroke-width="1.0" stroke-linecap="butt"/>
<text x="257.60" y="399.95" font-size="8.0" stroke-width="0.32" text-anchor="end" textLength="18.70" lengthAdjust="spacingAndGlyphs" >1500</text>
<line x1="261.00" y1="378.70" x2="264.60" y2="378.70" stroke="#111" stroke-width="1.0" stroke-linecap="butt"/>
<text x="257.60" y="381.45" font-size="8.0" stroke-width="0.32" text-anchor="end" textLength="18.70" lengthAdjust="spacingAndGlyphs" >2000</text>
<line x1="261.00" y1="360.20" x2="264.60" y2="360.20" stroke="#111" stroke-width="1.0" stroke-linecap="butt"/>
<text x="257.60" y="362.95" font-size="8.0" stroke-width="0.32" text-anchor="end" textLength="18.70" lengthAdjust="spacingAndGlyphs" >2500</text>
<line x1="264.10" y1="452.95" x2="403.30" y2="452.95" stroke="#111" stroke-width="1.35" stroke-linecap="butt"/>
<line x1="278.80" y1="452.70" x2="278.80" y2="455.90" stroke="#111" stroke-width="1.0" stroke-linecap="butt"/>
<text x="278.80" y="466.40" font-size="8.3" stroke-width="0.32" text-anchor="middle" textLength="4.40" lengthAdjust="spacingAndGlyphs" >0</text>
<line x1="300.88" y1="452.70" x2="300.88" y2="455.90" stroke="#111" stroke-width="1.0" stroke-linecap="butt"/>
<text x="300.88" y="466.40" font-size="8.3" stroke-width="0.32" text-anchor="middle" textLength="4.40" lengthAdjust="spacingAndGlyphs" >3</text>
<line x1="322.96" y1="452.70" x2="322.96" y2="455.90" stroke="#111" stroke-width="1.0" stroke-linecap="butt"/>
<text x="322.96" y="466.40" font-size="8.3" stroke-width="0.32" text-anchor="middle" textLength="4.40" lengthAdjust="spacingAndGlyphs" >6</text>
<line x1="345.04" y1="452.70" x2="345.04" y2="455.90" stroke="#111" stroke-width="1.0" stroke-linecap="butt"/>
<text x="345.04" y="466.40" font-size="8.3" stroke-width="0.32" text-anchor="middle" textLength="4.40" lengthAdjust="spacingAndGlyphs" >9</text>
<line x1="367.12" y1="452.70" x2="367.12" y2="455.90" stroke="#111" stroke-width="1.0" stroke-linecap="butt"/>
<text x="367.12" y="466.40" font-size="8.3" stroke-width="0.32" text-anchor="middle" textLength="8.60" lengthAdjust="spacingAndGlyphs" >12</text>
<line x1="389.20" y1="452.70" x2="389.20" y2="455.90" stroke="#111" stroke-width="1.0" stroke-linecap="butt"/>
<text x="389.20" y="466.40" font-size="8.3" stroke-width="0.32" text-anchor="middle" textLength="8.60" lengthAdjust="spacingAndGlyphs" >15</text>
<text x="333.95" y="480.90" font-size="10.7" text-anchor="middle" textLength="14.30" lengthAdjust="spacingAndGlyphs" stroke="#1a1a1a" stroke-width="0.45">Days</text>
<text transform="translate(232.70,405.25) rotate(-90)" x="0" y="0" font-size="10.8" text-anchor="middle" textLength="65" lengthAdjust="spacingAndGlyphs" fill="#1a1a1a" stroke="#1a1a1a" stroke-width="0.5">Tumor volume (mm<tspan dy="-3.6" font-size="7">3</tspan><tspan dy="3.6">)</tspan></text>
<text x="313.60" y="351.70" font-size="10.8" textLength="40.30" lengthAdjust="spacingAndGlyphs" >B6 SCID</text>
<line x1="345.04" y1="427.43" x2="345.04" y2="419.51" stroke="#254482" stroke-width="0.95" stroke-linecap="butt"/>
<line x1="342.59" y1="419.51" x2="347.49" y2="419.51" stroke="#254482" stroke-width="1.15" stroke-linecap="butt"/>
<line x1="367.12" y1="414.89" x2="367.12" y2="407.00" stroke="#254482" stroke-width="0.95" stroke-linecap="butt"/>
<line x1="364.67" y1="407.00" x2="369.57" y2="407.00" stroke="#254482" stroke-width="1.15" stroke-linecap="butt"/>
<line x1="389.20" y1="382.99" x2="389.20" y2="364.31" stroke="#254482" stroke-width="0.95" stroke-linecap="butt"/>
<line x1="386.75" y1="364.31" x2="391.65" y2="364.31" stroke="#254482" stroke-width="1.15" stroke-linecap="butt"/>
<path d="M278.80,452.70 L300.88,448.59 L322.96,446.11 L345.04,427.43 L367.12,414.89 L389.20,382.99" fill="none" stroke="#254482" stroke-width="1.3"/>
<circle cx="278.80" cy="452.70" r="2.50" fill="#254482" stroke="none"/>
<circle cx="300.88" cy="448.59" r="2.50" fill="#254482" stroke="none"/>
<circle cx="322.96" cy="446.11" r="2.50" fill="#254482" stroke="none"/>
<circle cx="345.04" cy="427.43" r="2.50" fill="#254482" stroke="none"/>
<circle cx="367.12" cy="414.89" r="2.50" fill="#254482" stroke="none"/>
<circle cx="389.20" cy="382.99" r="2.50" fill="#254482" stroke="none"/>
<line x1="322.96" y1="443.71" x2="322.96" y2="442.34" stroke="#aa1034" stroke-width="0.95" stroke-linecap="butt"/>
<line x1="320.51" y1="442.34" x2="325.41" y2="442.34" stroke="#aa1034" stroke-width="1.15" stroke-linecap="butt"/>
<line x1="345.04" y1="426.80" x2="345.04" y2="416.59" stroke="#aa1034" stroke-width="0.95" stroke-linecap="butt"/>
<line x1="342.59" y1="416.59" x2="347.49" y2="416.59" stroke="#aa1034" stroke-width="1.15" stroke-linecap="butt"/>
<line x1="367.12" y1="411.81" x2="367.12" y2="399.49" stroke="#aa1034" stroke-width="0.95" stroke-linecap="butt"/>
<line x1="364.67" y1="399.49" x2="369.57" y2="399.49" stroke="#aa1034" stroke-width="1.15" stroke-linecap="butt"/>
<line x1="389.20" y1="382.21" x2="389.20" y2="368.19" stroke="#aa1034" stroke-width="0.95" stroke-linecap="butt"/>
<line x1="386.75" y1="368.19" x2="391.65" y2="368.19" stroke="#aa1034" stroke-width="1.15" stroke-linecap="butt"/>
<path d="M278.80,452.70 L300.88,447.00 L322.96,443.71 L345.04,426.80 L367.12,411.81 L389.20,382.21" fill="none" stroke="#aa1034" stroke-width="1.3"/>
<circle cx="278.80" cy="452.70" r="2.50" fill="#aa1034" stroke="none"/>
<circle cx="300.88" cy="447.00" r="2.50" fill="#aa1034" stroke="none"/>
<circle cx="322.96" cy="443.71" r="2.50" fill="#aa1034" stroke="none"/>
<circle cx="345.04" cy="426.80" r="2.50" fill="#aa1034" stroke="none"/>
<circle cx="367.12" cy="411.81" r="2.50" fill="#aa1034" stroke="none"/>
<circle cx="389.20" cy="382.21" r="2.50" fill="#aa1034" stroke="none"/>
<line x1="397.30" y1="376.80" x2="397.30" y2="385.90" stroke="#2a2a2a" stroke-width="1.1" stroke-linecap="butt"/>
<text x="400.00" y="384.00" font-size="8.6" textLength="14.20" lengthAdjust="spacingAndGlyphs" >N.S.</text>
<line x1="421.00" y1="387.40" x2="439.90" y2="387.40" stroke="#254482" stroke-width="1.3"/>
<circle cx="430.45" cy="387.40" r="2.50" fill="#254482" stroke="none"/>
<text x="442.90" y="389.60" font-size="7.1" stroke-width="0.08" textLength="47.70" lengthAdjust="spacingAndGlyphs" >E.G7/B2MKO</text>
<text x="442.90" y="398.80" font-size="7.1" stroke-width="0.08" textLength="55.30" lengthAdjust="spacingAndGlyphs" >(MHC-I<tspan dy="-2.6" font-size="4.8">-</tspan><tspan dy="2.6">MHC-II</tspan><tspan dy="-2.6" font-size="4.8">-</tspan><tspan dy="2.6">)</tspan></text>
<line x1="421.00" y1="413.40" x2="439.90" y2="413.40" stroke="#aa1034" stroke-width="1.3"/>
<circle cx="430.45" cy="413.40" r="2.50" fill="#aa1034" stroke="none"/>
<text x="442.90" y="415.60" font-size="7.1" stroke-width="0.08" textLength="69.10" lengthAdjust="spacingAndGlyphs" >E.G7/B2MKO/CIITA</text>
<text x="442.90" y="425.10" font-size="7.1" stroke-width="0.08" textLength="56.10" lengthAdjust="spacingAndGlyphs" >(MHC-I<tspan dy="-2.6" font-size="4.8">-</tspan><tspan dy="2.6">MHC-II</tspan><tspan dy="-2.6" font-size="5.4" font-weight="bold">+</tspan><tspan dy="2.6">)</tspan></text>
<line x1="63.60" y1="531.50" x2="63.60" y2="626.80" stroke="#111" stroke-width="1.15" stroke-linecap="butt"/>
<line x1="60.00" y1="626.20" x2="63.60" y2="626.20" stroke="#111" stroke-width="1.0" stroke-linecap="butt"/>
<text x="56.60" y="628.95" font-size="8.0" stroke-width="0.32" text-anchor="end" textLength="4.50" lengthAdjust="spacingAndGlyphs" >0</text>
<line x1="60.00" y1="607.80" x2="63.60" y2="607.80" stroke="#111" stroke-width="1.0" stroke-linecap="butt"/>
<text x="56.60" y="610.55" font-size="8.0" stroke-width="0.32" text-anchor="end" textLength="14.00" lengthAdjust="spacingAndGlyphs" >500</text>
<line x1="60.00" y1="589.40" x2="63.60" y2="589.40" stroke="#111" stroke-width="1.0" stroke-linecap="butt"/>
<text x="56.60" y="592.15" font-size="8.0" stroke-width="0.32" text-anchor="end" textLength="18.70" lengthAdjust="spacingAndGlyphs" >1000</text>
<line x1="60.00" y1="571.00" x2="63.60" y2="571.00" stroke="#111" stroke-width="1.0" stroke-linecap="butt"/>
<text x="56.60" y="573.75" font-size="8.0" stroke-width="0.32" text-anchor="end" textLength="18.70" lengthAdjust="spacingAndGlyphs" >1500</text>
<line x1="60.00" y1="552.60" x2="63.60" y2="552.60" stroke="#111" stroke-width="1.0" stroke-linecap="butt"/>
<text x="56.60" y="555.35" font-size="8.0" stroke-width="0.32" text-anchor="end" textLength="18.70" lengthAdjust="spacingAndGlyphs" >2000</text>
<line x1="60.00" y1="534.20" x2="63.60" y2="534.20" stroke="#111" stroke-width="1.0" stroke-linecap="butt"/>
<text x="56.60" y="536.95" font-size="8.0" stroke-width="0.32" text-anchor="end" textLength="18.70" lengthAdjust="spacingAndGlyphs" >2500</text>
<line x1="63.10" y1="626.45" x2="202.30" y2="626.45" stroke="#111" stroke-width="1.35" stroke-linecap="butt"/>
<line x1="81.20" y1="626.20" x2="81.20" y2="629.40" stroke="#111" stroke-width="1.0" stroke-linecap="butt"/>
<text x="81.20" y="639.90" font-size="8.3" stroke-width="0.32" text-anchor="middle" textLength="4.40" lengthAdjust="spacingAndGlyphs" >0</text>
<line x1="106.97" y1="626.20" x2="106.97" y2="629.40" stroke="#111" stroke-width="1.0" stroke-linecap="butt"/>
<text x="106.97" y="639.90" font-size="8.3" stroke-width="0.32" text-anchor="middle" textLength="4.40" lengthAdjust="spacingAndGlyphs" >3</text>
<line x1="132.74" y1="626.20" x2="132.74" y2="629.40" stroke="#111" stroke-width="1.0" stroke-linecap="butt"/>
<text x="132.74" y="639.90" font-size="8.3" stroke-width="0.32" text-anchor="middle" textLength="4.40" lengthAdjust="spacingAndGlyphs" >6</text>
<line x1="158.51" y1="626.20" x2="158.51" y2="629.40" stroke="#111" stroke-width="1.0" stroke-linecap="butt"/>
<text x="158.51" y="639.90" font-size="8.3" stroke-width="0.32" text-anchor="middle" textLength="4.40" lengthAdjust="spacingAndGlyphs" >9</text>
<line x1="184.28" y1="626.20" x2="184.28" y2="629.40" stroke="#111" stroke-width="1.0" stroke-linecap="butt"/>
<text x="184.28" y="639.90" font-size="8.3" stroke-width="0.32" text-anchor="middle" textLength="8.60" lengthAdjust="spacingAndGlyphs" >12</text>
<text x="132.95" y="654.40" font-size="10.7" text-anchor="middle" textLength="14.30" lengthAdjust="spacingAndGlyphs" stroke="#1a1a1a" stroke-width="0.45">Days</text>
<text transform="translate(31.70,579.00) rotate(-90)" x="0" y="0" font-size="10.8" text-anchor="middle" textLength="65" lengthAdjust="spacingAndGlyphs" fill="#1a1a1a" stroke="#1a1a1a" stroke-width="0.5">Tumor volume (mm<tspan dy="-3.6" font-size="7">3</tspan><tspan dy="3.6">)</tspan></text>
<text x="133.40" y="513.10" font-size="9.9" text-anchor="middle" textLength="89.30" lengthAdjust="spacingAndGlyphs" >E.G7/B2MKO/CIITA</text>
<text x="133.10" y="525.00" font-size="9.5" text-anchor="middle" textLength="74.60" lengthAdjust="spacingAndGlyphs" >(MHC-I<tspan dy="-4.0" font-size="6">-</tspan><tspan dy="4.0">MHC-II</tspan><tspan dy="-2.6" font-size="7.3" font-weight="bold">+</tspan><tspan dy="2.6">)</tspan></text>
<line x1="81.20" y1="621.42" x2="81.20" y2="618.25" stroke="#aa1034" stroke-width="0.95" stroke-linecap="butt"/>
<line x1="78.75" y1="618.25" x2="83.65" y2="618.25" stroke="#aa1034" stroke-width="1.15" stroke-linecap="butt"/>
<line x1="106.97" y1="616.93" x2="106.97" y2="611.30" stroke="#aa1034" stroke-width="0.95" stroke-linecap="butt"/>
<line x1="104.52" y1="611.30" x2="109.42" y2="611.30" stroke="#aa1034" stroke-width="1.15" stroke-linecap="butt"/>
<line x1="132.74" y1="606.70" x2="132.74" y2="596.69" stroke="#aa1034" stroke-width="0.95" stroke-linecap="butt"/>
<line x1="130.29" y1="596.69" x2="135.19" y2="596.69" stroke="#aa1034" stroke-width="1.15" stroke-linecap="butt"/>
<line x1="158.51" y1="591.90" x2="158.51" y2="578.91" stroke="#aa1034" stroke-width="0.95" stroke-linecap="butt"/>
<line x1="156.06" y1="578.91" x2="160.96" y2="578.91" stroke="#aa1034" stroke-width="1.15" stroke-linecap="butt"/>
<line x1="184.28" y1="565.26" x2="184.28" y2="552.49" stroke="#aa1034" stroke-width="0.95" stroke-linecap="butt"/>
<line x1="181.83" y1="552.49" x2="186.73" y2="552.49" stroke="#aa1034" stroke-width="1.15" stroke-linecap="butt"/>
<path d="M81.20,621.42 L106.97,616.93 L132.74,606.70 L158.51,591.90 L184.28,565.26" fill="none" stroke="#aa1034" stroke-width="1.3"/>
<circle cx="81.20" cy="621.42" r="2.50" fill="#aa1034" stroke="none"/>
<circle cx="106.97" cy="616.93" r="2.50" fill="#aa1034" stroke="none"/>
<circle cx="132.74" cy="606.70" r="2.50" fill="#aa1034" stroke="none"/>
<circle cx="158.51" cy="591.90" r="2.50" fill="#aa1034" stroke="none"/>
<circle cx="184.28" cy="565.26" r="2.50" fill="#aa1034" stroke="none"/>
<line x1="158.51" y1="602.39" x2="158.51" y2="597.79" stroke="#aa1034" stroke-width="0.95" stroke-linecap="butt"/>
<line x1="156.06" y1="597.79" x2="160.96" y2="597.79" stroke="#aa1034" stroke-width="1.15" stroke-linecap="butt"/>
<line x1="184.28" y1="588.11" x2="184.28" y2="578.99" stroke="#aa1034" stroke-width="0.95" stroke-linecap="butt"/>
<line x1="181.83" y1="578.99" x2="186.73" y2="578.99" stroke="#aa1034" stroke-width="1.15" stroke-linecap="butt"/>
<path d="M81.20,621.42 L106.97,619.83 L132.74,613.69 L158.51,602.39 L184.28,588.11" fill="none" stroke="#aa1034" stroke-width="1.3" stroke-dasharray="2.6,2.2"/>
<rect x="78.45" y="618.67" width="5.50" height="5.50" fill="#aa1034" stroke="none"/>
<rect x="104.22" y="617.08" width="5.50" height="5.50" fill="#aa1034" stroke="none"/>
<rect x="129.99" y="610.94" width="5.50" height="5.50" fill="#aa1034" stroke="none"/>
<rect x="155.76" y="599.64" width="5.50" height="5.50" fill="#aa1034" stroke="none"/>
<rect x="181.53" y="585.36" width="5.50" height="5.50" fill="#aa1034" stroke="none"/>
<line x1="194.30" y1="564.80" x2="194.30" y2="586.60" stroke="#2a2a2a" stroke-width="1.1" stroke-linecap="butt"/>
<text x="198.00" y="577.40" font-size="8" textLength="5.50" lengthAdjust="spacingAndGlyphs" >**</text>
<line x1="264.60" y1="532.30" x2="264.60" y2="626.60" stroke="#111" stroke-width="1.15" stroke-linecap="butt"/>
<line x1="261.00" y1="626.00" x2="264.60" y2="626.00" stroke="#111" stroke-width="1.0" stroke-linecap="butt"/>
<text x="257.60" y="628.75" font-size="8.0" stroke-width="0.32" text-anchor="end" textLength="4.50" lengthAdjust="spacingAndGlyphs" >0</text>
<line x1="261.00" y1="610.80" x2="264.60" y2="610.80" stroke="#111" stroke-width="1.0" stroke-linecap="butt"/>
<text x="257.60" y="613.55" font-size="8.0" stroke-width="0.32" text-anchor="end" textLength="14.00" lengthAdjust="spacingAndGlyphs" >500</text>
<line x1="261.00" y1="595.60" x2="264.60" y2="595.60" stroke="#111" stroke-width="1.0" stroke-linecap="butt"/>
<text x="257.60" y="598.35" font-size="8.0" stroke-width="0.32" text-anchor="end" textLength="18.70" lengthAdjust="spacingAndGlyphs" >1000</text>
<line x1="261.00" y1="580.40" x2="264.60" y2="580.40" stroke="#111" stroke-width="1.0" stroke-linecap="butt"/>
<text x="257.60" y="583.15" font-size="8.0" stroke-width="0.32" text-anchor="end" textLength="18.70" lengthAdjust="spacingAndGlyphs" >1500</text>
<line x1="261.00" y1="565.20" x2="264.60" y2="565.20" stroke="#111" stroke-width="1.0" stroke-linecap="butt"/>
<text x="257.60" y="567.95" font-size="8.0" stroke-width="0.32" text-anchor="end" textLength="18.70" lengthAdjust="spacingAndGlyphs" >2000</text>
<line x1="261.00" y1="550.00" x2="264.60" y2="550.00" stroke="#111" stroke-width="1.0" stroke-linecap="butt"/>
<text x="257.60" y="552.75" font-size="8.0" stroke-width="0.32" text-anchor="end" textLength="18.70" lengthAdjust="spacingAndGlyphs" >2500</text>
<line x1="261.00" y1="534.80" x2="264.60" y2="534.80" stroke="#111" stroke-width="1.0" stroke-linecap="butt"/>
<text x="257.60" y="537.55" font-size="8.0" stroke-width="0.32" text-anchor="end" textLength="18.70" lengthAdjust="spacingAndGlyphs" >3000</text>
<line x1="264.10" y1="626.25" x2="402.70" y2="626.25" stroke="#111" stroke-width="1.35" stroke-linecap="butt"/>
<line x1="281.70" y1="626.00" x2="281.70" y2="629.20" stroke="#111" stroke-width="1.0" stroke-linecap="butt"/>
<text x="281.70" y="639.70" font-size="8.3" stroke-width="0.32" text-anchor="middle" textLength="4.40" lengthAdjust="spacingAndGlyphs" >0</text>
<line x1="307.53" y1="626.00" x2="307.53" y2="629.20" stroke="#111" stroke-width="1.0" stroke-linecap="butt"/>
<text x="307.53" y="639.70" font-size="8.3" stroke-width="0.32" text-anchor="middle" textLength="4.40" lengthAdjust="spacingAndGlyphs" >3</text>
<line x1="333.36" y1="626.00" x2="333.36" y2="629.20" stroke="#111" stroke-width="1.0" stroke-linecap="butt"/>
<text x="333.36" y="639.70" font-size="8.3" stroke-width="0.32" text-anchor="middle" textLength="4.40" lengthAdjust="spacingAndGlyphs" >6</text>
<line x1="359.19" y1="626.00" x2="359.19" y2="629.20" stroke="#111" stroke-width="1.0" stroke-linecap="butt"/>
<text x="359.19" y="639.70" font-size="8.3" stroke-width="0.32" text-anchor="middle" textLength="4.40" lengthAdjust="spacingAndGlyphs" >9</text>
<line x1="385.02" y1="626.00" x2="385.02" y2="629.20" stroke="#111" stroke-width="1.0" stroke-linecap="butt"/>
<text x="385.02" y="639.70" font-size="8.3" stroke-width="0.32" text-anchor="middle" textLength="8.60" lengthAdjust="spacingAndGlyphs" >12</text>
<text x="333.65" y="654.20" font-size="10.7" text-anchor="middle" textLength="14.30" lengthAdjust="spacingAndGlyphs" stroke="#1a1a1a" stroke-width="0.45">Days</text>
<text transform="translate(232.70,579.20) rotate(-90)" x="0" y="0" font-size="10.8" text-anchor="middle" textLength="65" lengthAdjust="spacingAndGlyphs" fill="#1a1a1a" stroke="#1a1a1a" stroke-width="0.5">Tumor volume (mm<tspan dy="-3.6" font-size="7">3</tspan><tspan dy="3.6">)</tspan></text>
<text x="334.30" y="512.95" font-size="9.6" text-anchor="middle" textLength="98.20" lengthAdjust="spacingAndGlyphs" >MC-38/B2MKO/CIITA</text>
<text x="334.20" y="525.00" font-size="9.5" text-anchor="middle" textLength="75.10" lengthAdjust="spacingAndGlyphs" >(MHC-I<tspan dy="-4.0" font-size="6">-</tspan><tspan dy="4.0">MHC-II</tspan><tspan dy="-2.6" font-size="7.3" font-weight="bold">+</tspan><tspan dy="2.6">)</tspan></text>
<line x1="333.36" y1="615.21" x2="333.36" y2="611.50" stroke="#aa1034" stroke-width="0.95" stroke-linecap="butt"/>
<line x1="330.91" y1="611.50" x2="335.81" y2="611.50" stroke="#aa1034" stroke-width="1.15" stroke-linecap="butt"/>
<line x1="359.19" y1="596.21" x2="359.19" y2="591.59" stroke="#aa1034" stroke-width="0.95" stroke-linecap="butt"/>
<line x1="356.74" y1="591.59" x2="361.64" y2="591.59" stroke="#aa1034" stroke-width="1.15" stroke-linecap="butt"/>
<line x1="385.02" y1="575.51" x2="385.02" y2="563.41" stroke="#aa1034" stroke-width="0.95" stroke-linecap="butt"/>
<line x1="382.57" y1="563.41" x2="387.47" y2="563.41" stroke="#aa1034" stroke-width="1.15" stroke-linecap="butt"/>
<path d="M281.70,623.81 L307.53,621.90 L333.36,615.21 L359.19,596.21 L385.02,575.51" fill="none" stroke="#aa1034" stroke-width="1.3"/>
<circle cx="281.70" cy="623.81" r="2.50" fill="#aa1034" stroke="none"/>
<circle cx="307.53" cy="621.90" r="2.50" fill="#aa1034" stroke="none"/>
<circle cx="333.36" cy="615.21" r="2.50" fill="#aa1034" stroke="none"/>
<circle cx="359.19" cy="596.21" r="2.50" fill="#aa1034" stroke="none"/>
<circle cx="385.02" cy="575.51" r="2.50" fill="#aa1034" stroke="none"/>
<line x1="359.19" y1="606.09" x2="359.19" y2="601.80" stroke="#aa1034" stroke-width="0.95" stroke-linecap="butt"/>
<line x1="356.74" y1="601.80" x2="361.64" y2="601.80" stroke="#aa1034" stroke-width="1.15" stroke-linecap="butt"/>
<line x1="385.02" y1="591.01" x2="385.02" y2="586.39" stroke="#aa1034" stroke-width="0.95" stroke-linecap="butt"/>
<line x1="382.57" y1="586.39" x2="387.47" y2="586.39" stroke="#aa1034" stroke-width="1.15" stroke-linecap="butt"/>
<path d="M281.70,623.81 L307.53,621.90 L333.36,614.69 L359.19,606.09 L385.02,591.01" fill="none" stroke="#aa1034" stroke-width="1.3" stroke-dasharray="2.6,2.2"/>
<rect x="278.95" y="621.06" width="5.50" height="5.50" fill="#aa1034" stroke="none"/>
<rect x="304.78" y="619.15" width="5.50" height="5.50" fill="#aa1034" stroke="none"/>
<rect x="330.61" y="611.94" width="5.50" height="5.50" fill="#aa1034" stroke="none"/>
<rect x="356.44" y="603.34" width="5.50" height="5.50" fill="#aa1034" stroke="none"/>
<rect x="382.27" y="588.26" width="5.50" height="5.50" fill="#aa1034" stroke="none"/>
<line x1="393.70" y1="572.40" x2="393.70" y2="593.60" stroke="#2a2a2a" stroke-width="1.1" stroke-linecap="butt"/>
<text x="398.80" y="584.20" font-size="8" textLength="2.60" lengthAdjust="spacingAndGlyphs" >*</text>
<line x1="421.20" y1="572.50" x2="439.80" y2="572.50" stroke="#aa1034" stroke-width="1.3"/>
<circle cx="430.50" cy="572.50" r="2.50" fill="#aa1034" stroke="none"/>
<text x="443.10" y="575.85" font-size="8.5" stroke-width="0.1" textLength="42.90" lengthAdjust="spacingAndGlyphs" >Control mAb</text>
<line x1="421.00" y1="585.90" x2="422.10" y2="585.90" stroke="#aa1034" stroke-width="1.4"/>
<line x1="424.00" y1="585.90" x2="426.00" y2="585.90" stroke="#aa1034" stroke-width="1.4"/>
<line x1="435.00" y1="585.90" x2="437.00" y2="585.90" stroke="#aa1034" stroke-width="1.4"/>
<line x1="438.90" y1="585.90" x2="440.00" y2="585.90" stroke="#aa1034" stroke-width="1.4"/>
<rect x="427.70" y="583.50" width="5.6" height="4.8" fill="#aa1034" stroke="none"/>
<text x="443.10" y="589.25" font-size="8.5" stroke-width="0.1" textLength="50.90" lengthAdjust="spacingAndGlyphs" >Anti-PD-1 mAb</text>
</g>
<rect x="0.5" y="0.5" width="519" height="663" fill="none" stroke="#000" stroke-width="1.3"/>
</svg></body></html>
